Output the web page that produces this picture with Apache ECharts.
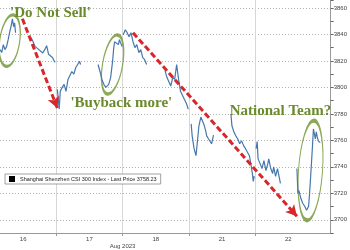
<!DOCTYPE html>
<html><head><meta charset="utf-8">
<script src="https://cdn.jsdelivr.net/npm/echarts@6/dist/echarts.min.js"></script>
<style>html,body{margin:0;padding:0;background:#fff}#c{width:350px;height:250px}</style>
</head><body><div id="c"></div>
<script>
// ---- data ----
const dayLabels = ['16', '17', '18', '21', '22'];
const monthLabel = 'Aug 2023';
const seriesName = 'Shanghai Shenzhen CSI 300 Index';
const lastPrice = 3758.23;

// position within each trading day (0 = open, 1 = close; null = lunch break)
const t16 = [0.151, 0.176, 0.2, 0.224, 0.249, 0.273, 0.297, 0.322, 0.337, 0.356, 0.37, 0.385, null, 0.62, 0.649, 0.678, 0.707, 0.737, 0.766, 0.795, 0.825, 0.854, 0.883, 0.912, 0.942, 0.971, 0.985];
const p16 = [3828.5, 3826.3, 3832.3, 3828.5, 3830.8, 3836, 3842, 3847.3, 3851.8, 3845.8, 3848.8, 3841.3, null, 3837.5, 3834.5, 3831, 3832, 3828.5, 3830, 3826, 3828.5, 3831.5, 3825, 3826.3, 3822.6, 3819.6, 3819];
const t17 = [0.015, 0.029, 0.044, 0.059, 0.088, 0.117, 0.146, 0.176, 0.205, 0.234, 0.264, 0.293, 0.322, 0.351, 0.366, null, 0.63, 0.659, 0.688, 0.717, 0.747, 0.776, 0.791, 0.82, 0.849, 0.864, 0.879, 0.908, 0.937, 0.952, 0.981, 0.996];
const p17 = [3798.6, 3791, 3783.6, 3797, 3800, 3802.3, 3797, 3806, 3804.6, 3812, 3810, 3815, 3817.3, 3819.6, 3817.3, null, 3817.3, 3812, 3806, 3802.3, 3800, 3798.6, 3802.3, 3807.6, 3819.6, 3828.5, 3834.5, 3836, 3832.3, 3836, 3832.3, 3830.8];
const t18 = [0.01, 0.04, 0.069, 0.098, 0.127, 0.157, 0.186, 0.215, 0.245, 0.274, 0.303, 0.332, 0.362, null, 0.64, 0.669, 0.698, 0.727, 0.757, 0.786, 0.816, 0.845, 0.874, 0.903, 0.932, 0.962, 0.991];
const p18 = [3839.8, 3843.5, 3841.3, 3838.3, 3841.3, 3834.5, 3830, 3832.3, 3826.3, 3828.5, 3822.6, 3821, 3817.3, null, 3812.7, 3807.6, 3809, 3801, 3807.6, 3806, 3817.3, 3806, 3797, 3794, 3791, 3788, 3783.6];
const t21 = [0.035, 0.05, 0.079, 0.108, 0.123, 0.152, 0.181, 0.196, 0.225, 0.255, 0.269, 0.298, 0.328, 0.343, 0.372, null, 0.635, 0.65, 0.679, 0.709, 0.738, 0.767, 0.797, 0.826, 0.855, 0.884, 0.914, 0.943, 0.958, 0.972, 0.987];
const p21 = [3772.4, 3763.4, 3753.7, 3748.4, 3756, 3771, 3777.6, 3777.6, 3772.4, 3767, 3763.4, 3761, 3762.5, 3757.4, 3764, null, 3779.9, 3771, 3766.4, 3763.4, 3761, 3757.4, 3759.6, 3756, 3753.7, 3755, 3748.4, 3740, 3735, 3729, 3733];
const t22 = [0.016, 0.031, 0.045, 0.075, 0.104, 0.133, 0.163, 0.192, 0.206, 0.236, 0.265, 0.28, 0.309, 0.338, 0.368, 0.382, null, 0.631, 0.646, 0.66, 0.69, 0.719, 0.748, 0.777, 0.792, 0.807, 0.821, 0.836, 0.85, 0.865, 0.88, 0.894, 0.909, 0.923, 0.938, 0.953, 0.967, 0.982];
const p22 = [3753.7, 3759, 3746, 3742.4, 3738.7, 3744.7, 3737.2, 3742.4, 3746, 3738.7, 3735, 3740, 3732.7, 3738.7, 3731, 3727.4, null, 3738.7, 3720, 3722.2, 3716.2, 3712.5, 3710.2, 3707.2, 3705.7, 3710.2, 3719.2, 3731, 3742.4, 3755, 3768.6, 3765, 3761, 3766.4, 3762.6, 3759.6, 3761, 3758.23];

// annotations (data coordinates: day position, price)
const noteTexts = ["'Do Not Sell'", "'Buyback more'", 'National Team?'];
const noteAt = [[0.912, 3856.3], [1.981, 3788.1], [4.382, 3782.1]];
const ringAt = [[0.297, 3835.3], [1.849, 3817.3], [4.836, 3737.2]];
const arrowFrom = [[0.488, 3851.8], [2.157, 3841.3]];
const arrowTo = [[1.015, 3784.4], [4.631, 3702.7]];

// ---- build ----
const days = [[t16, p16], [t17, p17], [t18, p18], [t21, p21], [t22, p22]];
const lineData = [];
days.forEach(([t, p], d) => {
  t.forEach((v, i) => lineData.push(v === null ? [d + 0.5, '-'] : [d + v, p[i]]));
  lineData.push([d + 1, '-']);
});

const ringSizes = [[20, 52], [20, 60], [24, 100]];
const ringRot = [-8, -10, -4];

const chart = echarts.init(document.getElementById('c'), null, {renderer: 'canvas'});
chart.setOption({
  animation: false,
  backgroundColor: '#fff',
  grid: {left: 0, right: 9, top: 0, bottom: 15, containLabel: false},
  legend: {
    data: [{name: seriesName, icon: 'rect', itemStyle: {color: '#000'}}],
    left: 5, top: 174, padding: [2, 4],
    borderColor: '#8a8a8a', borderWidth: 0.8, backgroundColor: '#fff',
    itemWidth: 6, itemHeight: 6, itemGap: 3,
    textStyle: {fontSize: 5.5, color: '#222', fontFamily: 'Liberation Sans'},
    formatter: n => n + ' - Last Price ' + lastPrice.toFixed(2),
    selectedMode: false
  },
  xAxis: {
    type: 'value', min: 0.15, max: 5.14,
    axisLine: {show: true, lineStyle: {color: '#999', width: 1}},
    axisTick: {show: true, customValues: [1, 2, 3, 4], length: 3, lineStyle: {color: '#999'}},
    splitLine: {show: true, lineStyle: {color: '#d6d6d6', width: 1, type: 'solid'}},
    axisLabel: {
      customValues: [0.5, 1.5, 2, 2.5, 3.5, 4.5],
      formatter: v => (v === 2 ? '\n' + monthLabel : dayLabels[Math.floor(v)]),
      fontSize: 6, color: '#444', margin: 3, lineHeight: 7, fontFamily: 'Liberation Sans'
    }
  },
  yAxis: {
    type: 'value', position: 'right', min: 3690, max: 3866, interval: 10,
    axisLine: {show: true, lineStyle: {color: '#999', width: 1}},
    axisTick: {show: true, length: 3, lineStyle: {color: '#666'}},
    splitLine: {show: true, lineStyle: {color: ['rgba(0,0,0,0)', '#b0b0b0'], width: 1, type: [1, 2]}},
    axisLabel: {
      formatter: v => (v % 20 === 0 ? String(v) : ''),
      fontSize: 6, color: '#444', margin: 3, fontFamily: 'Liberation Sans'
    }
  },
  series: [
    {
      name: seriesName, type: 'line', data: lineData, showSymbol: false,
      connectNulls: false,
      lineStyle: {color: '#4677ad', width: 1.2},
      itemStyle: {color: '#000'},
      markLine: {
        silent: true, symbol: 'none',
        lineStyle: {opacity: 0},
        label: {
          show: true, position: 'end', distance: 1,
          formatter: () => lastPrice.toFixed(2),
          backgroundColor: '#111', color: '#fff', fontSize: 6,
          padding: [1, 2], borderRadius: 2
        },
        data: [{yAxis: lastPrice}]
      }
    },
    {
      name: 'annotations', type: 'scatter', silent: true,
      data: ringAt,
      symbol: 'circle',
      symbolSize: (val, params) => ringSizes[params.dataIndex],
      symbolRotate: (val, params) => ringRot[params.dataIndex],
      itemStyle: {color: 'rgba(0,0,0,0)', borderColor: '#6f9330', borderWidth: 2},
      emphasis: {disabled: true},
      markLine: {
        silent: true, symbol: ['none', 'arrow'], symbolSize: [9, 11],
        lineStyle: {color: '#d8262c', width: 3, type: [6, 3]},
        label: {show: false},
        data: arrowFrom.map((a, i) => [{coord: a}, {coord: arrowTo[i]}])
      },
      markPoint: {
        silent: true, symbol: 'circle', symbolSize: 0,
        label: {
          show: true, position: 'inside', formatter: '{b}',
          fontFamily: 'Liberation Serif', fontWeight: 'bold', fontSize: 15, color: '#6a8a2c'
        },
        data: noteTexts.map((t, i) => ({name: t, coord: noteAt[i]}))
      }
    }
  ]
});
</script></body></html>
